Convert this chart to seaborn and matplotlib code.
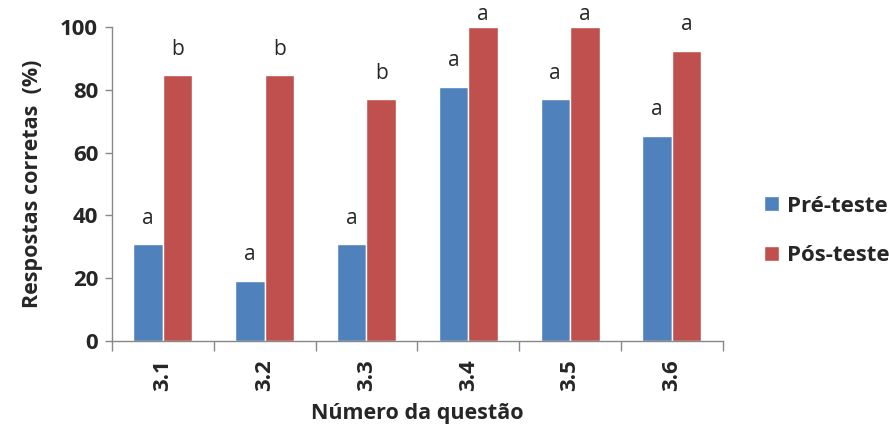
import pandas as pd
import matplotlib.pyplot as plt
import seaborn as sns
from matplotlib.ticker import FixedLocator

# ─── Dados ───
questoes = ['3.1', '3.2', '3.3', '3.4', '3.5', '3.6']
pre_teste = [30.8, 19.2, 30.8, 80.8, 76.9, 65.4]
pos_teste = [84.6, 84.6, 76.9, 100.0, 100.0, 92.3]
letras_pre = ['a', 'a', 'a', 'a', 'a', 'a']
letras_pos = ['b', 'b', 'b', 'a', 'a', 'a']
series = ['Pré-teste', 'Pós-teste']

df = pd.DataFrame({
    'Questão': questoes * 2,
    'Valor': pre_teste + pos_teste,
    'Teste': [series[0]] * len(questoes) + [series[1]] * len(questoes),
})

sns.set_style('white')
plt.rcParams['font.family'] = ['Open Sans', 'DejaVu Sans']

fig = plt.figure(figsize=(8.89, 4.26), dpi=100)
ax = fig.add_axes([0.126, 0.1995, 0.687, 0.7375])

sns.barplot(data=df, x='Questão', y='Valor', hue='Teste', hue_order=series,
            palette=['#4F81BD', '#C0504D'], width=0.58, saturation=1,
            ax=ax, legend=True)

# letras de significância (limitadas ao topo do eixo)
for cont, letras in zip(ax.containers, [letras_pre, letras_pos]):
    for bar, txt in zip(cont, letras):
        y = min(bar.get_height() + 5, 100.5)
        ax.text(bar.get_x() + bar.get_width() / 2, y, txt,
                ha='center', va='bottom', fontsize=15, clip_on=False)

ax.set_ylim(0, 100)
ax.set_xlim(-0.5, len(questoes) - 0.5)
ax.set_yticks([0, 20, 40, 60, 80, 100])
ax.tick_params(axis='y', labelsize=16, length=5, width=1, color='#888888',
               direction='out', left=True, pad=5)
for lab in ax.get_yticklabels():
    lab.set_fontweight('bold')

ax.set_xticks(range(len(questoes)))
ax.set_xticklabels(questoes, rotation=90, fontsize=16, fontweight='bold')
ax.tick_params(axis='x', which='major', length=0, pad=13)
ax.xaxis.set_minor_locator(FixedLocator([i - 0.5 for i in range(len(questoes) + 1)]))
ax.tick_params(axis='x', which='minor', length=7, width=1, color='#888888',
               direction='out', bottom=True)

for side in ['top', 'right']:
    ax.spines[side].set_visible(False)
for side in ['left', 'bottom']:
    ax.spines[side].set_color('#888888')
    ax.spines[side].set_linewidth(1)

ax.set_xlabel('Número da questão', fontsize=15.5, fontweight='bold', labelpad=9)
ax.set_ylabel('Respostas corretas  (%)', fontsize=15.5, fontweight='bold', labelpad=12)

ax.legend(loc='center left', bbox_to_anchor=(1.035, 0.35), frameon=False,
          prop={'weight': 'bold', 'size': 16}, handlelength=0.65, handleheight=0.65,
          labelspacing=1.3, handletextpad=0.4)

plt.savefig('out.png', dpi=100)
